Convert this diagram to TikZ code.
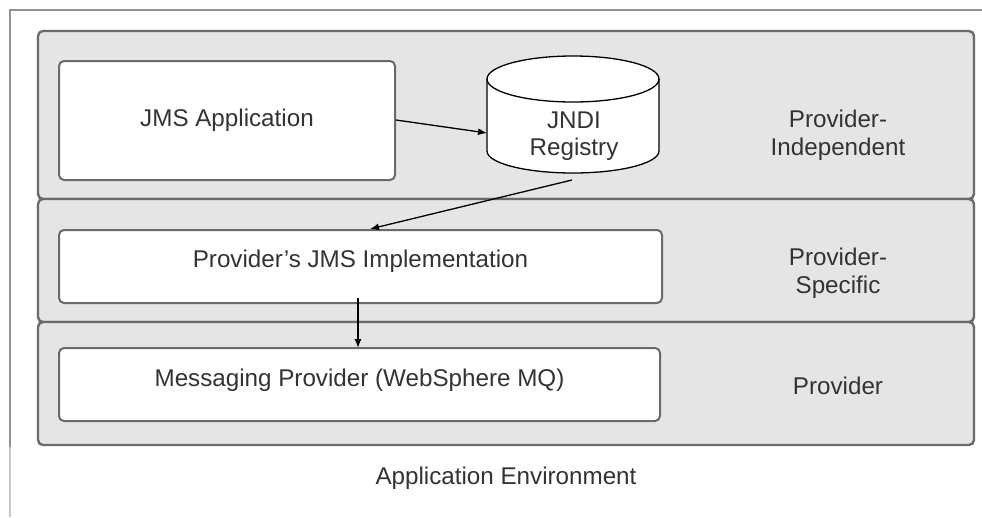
\documentclass[tikz,border=0pt]{standalone}
\usepackage{fontspec}
\setmainfont{Liberation Sans}
\usetikzlibrary{arrows.meta}
\definecolor{panelfill}{HTML}{E5E5E5}
\definecolor{panelline}{HTML}{6A6A6A}
\definecolor{textgray}{HTML}{333333}
\tikzset{
  x=1pt, y=-1pt,
  every node/.style={font=\fontsize{24.2}{28}\selectfont, text=textgray, inner sep=0pt},
  panel/.style={draw=panelline, fill=panelfill, line width=2.4pt, rounded corners=5pt},
  box/.style={draw=panelline, fill=white, line width=2pt, rounded corners=5pt},
  flow/.style={draw=black, line width=1.3pt, -{Latex[length=9pt,width=7pt]}},
  side/.style={align=center}
}
\begin{document}
\begin{tikzpicture}
\useasboundingbox (0,0) rectangle (982,517);

% outer environment frame (open to the right and bottom)
\draw[line width=2pt, draw=gray!85] (10,447) -- (10,10) -- (982,10);
\draw[line width=2pt, draw=gray!45] (10,447) -- (10,517);

% the three layers
\node[panel, minimum width=936, minimum height=168] (indep) at (506,115) {};
\node[panel, minimum width=936, minimum height=123] (spec) at (506,260.5) {};
\node[panel, minimum width=936, minimum height=123] (prov) at (506,383.5) {};

% components
\node[box, minimum width=336, minimum height=119] (app) at (227,120.5) {JMS Application};
\node[box, minimum width=603, minimum height=73,
      label={[yshift=5pt]center:Provider's JMS Implementation}] (impl) at (360.5,266.5) {};
\node[box, minimum width=601, minimum height=73,
      label={[yshift=4.5pt]center:Messaging Provider (WebSphere MQ)}] (msg) at (359.5,384.5) {};

% JNDI registry drawn as a cylinder (y axis points down here)
\node[minimum width=172, minimum height=118] (jndi) at (573,114) {};
\filldraw[fill=white, draw=black, line width=1.3pt]
  (487,79) -- (487,151) arc[start angle=180, end angle=0, x radius=86, y radius=22]
  -- (659,79) arc[start angle=0, end angle=-180, x radius=86, y radius=23] -- cycle;
\draw[black, line width=1.3pt]
  (487,79) arc[start angle=180, end angle=0, x radius=86, y radius=23];
\node[align=center, font=\fontsize{24.2}{27}\selectfont] (jnditext) at (574,136) {JNDI\\Registry};
\coordinate (jndiin) at (487,133);
\coordinate (jndiout) at (572,180);

% layer names
\node[side] (lab1) at (838,135) {Provider-\\Independent};
\node[side] (lab2) at (838,273) {Provider-\\Specific};
\node[side] (lab3) at (838,386) {Provider};
\node (env) at (506,478) {Application Environment};

% connectors
\draw[flow] (app.east |- 0,120) -- (jndiin);
\draw[flow] (jndiout) -- (370,229);
\draw[flow] (358,298) -- (358,348);
\end{tikzpicture}
\end{document}
